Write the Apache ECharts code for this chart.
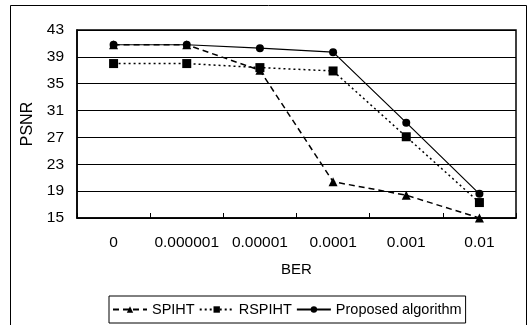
<!DOCTYPE html>
<html><head><meta charset="utf-8">
<script src="https://cdn.jsdelivr.net/npm/echarts@6/dist/echarts.min.js"></script>
<style>html,body{margin:0;padding:0;background:#fff}#c{width:529px;height:325px}</style>
</head><body><div id="c"></div>
<script>
var categories = ['0','0.000001','0.00001','0.0001','0.001','0.01'];
var spiht = [40.8, 40.8, 37.0, 20.4, 18.4, 15.0];
var rspiht = [38.0, 38.0, 37.4, 36.9, 27.1, 17.3];
var proposed = [40.8, 40.8, 40.3, 39.7, 29.2, 18.6];
var seriesNames = ['SPIHT','RSPIHT','Proposed algorithm'];
var yMin = 15, yMax = 43, yStep = 4;

var font = 'Liberation Sans, Arial, sans-serif';
var chart = echarts.init(document.getElementById('c'));
chart.setOption({
  animation:false,
  backgroundColor:'#fff',
  graphic:[{type:'rect',shape:{x:10.5,y:5.5,width:516,height:330},style:{fill:'none',stroke:'#000',lineWidth:1}}],
  grid:{left:77,right:13,top:30,bottom:107,show:true,borderColor:'#000',borderWidth:1.5,backgroundColor:'transparent'},
  xAxis:{type:'category',data:categories,boundaryGap:true,
    name:'BER',nameLocation:'middle',nameGap:44,nameTextStyle:{fontFamily:font,fontSize:15,color:'#000'},
    axisLine:{lineStyle:{color:'#000',width:1.5}},axisTick:{show:true,inside:true,length:5,lineStyle:{color:'#000'}},
    axisLabel:{fontFamily:font,fontSize:15.5,color:'#000',margin:17,interval:0}},
  yAxis:{type:'value',min:yMin,max:yMax,interval:yStep,
    name:'PSNR',nameLocation:'middle',nameGap:40,nameTextStyle:{fontFamily:font,fontSize:16,color:'#000'},
    axisLine:{show:true,lineStyle:{color:'#000',width:1.5}},axisTick:{show:false},
    splitLine:{lineStyle:{color:'#000',width:1}},
    axisLabel:{fontFamily:font,fontSize:15.5,color:'#000',margin:13}},
  legend:{bottom:2,left:109,itemWidth:34,itemHeight:8,itemGap:4,
    borderColor:'#000',borderWidth:1,padding:[6,4,6,3],
    textStyle:{fontFamily:font,fontSize:14.5,color:'#000'},
    data:seriesNames},
  series:[
    {name:seriesNames[0],type:'line',data:spiht,symbol:'triangle',symbolSize:9,
     lineStyle:{color:'#000',width:1.5,type:[6,4]},itemStyle:{color:'#000'}},
    {name:seriesNames[1],type:'line',data:rspiht,symbol:'rect',symbolSize:9,
     lineStyle:{color:'#000',width:1.5,type:[2,3]},itemStyle:{color:'#000'}},
    {name:seriesNames[2],type:'line',data:proposed,symbol:'circle',symbolSize:8,
     lineStyle:{color:'#000',width:1.2,type:'solid'},itemStyle:{color:'#000'}}
  ]
});
</script></body></html>
